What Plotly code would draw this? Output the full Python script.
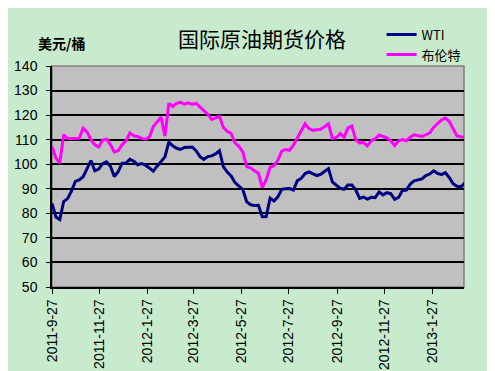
import plotly.graph_objects as go
import pandas as pd

# sampled every 5 days starting 2011-09-27
start_date = "2011-09-27"
wti = [84, 78.5, 77.5, 84.8, 86, 89, 93, 93.6, 94.9, 98,
       101.5, 97.3, 98, 100.2, 101, 99.2, 95, 97, 100.4, 100.5,
       102, 101.2, 99.8, 100.3, 99.6, 98.5, 97.2, 99.2, 100.9, 103,
       109, 107.5, 106.5, 106, 106.8, 106.8, 107, 105.5, 103.1, 102,
       103.1, 103.4, 104.2, 105.5, 99, 96.8, 95.2, 92.5, 91, 89.7,
       84.7, 83.5, 83.2, 83.3, 78.6, 78.7, 86.2, 85, 86.7, 89.8,
       90, 90.1, 89.5, 93.3, 94.2, 96.2, 96.9, 96.1, 95.4, 95.9,
       96.9, 98.2, 92.8, 91.6, 90.2, 89.8, 91.5, 91.5, 89.6, 86.1,
       86.6, 85.8, 86.5, 86.4, 88.7, 87.5, 88.4, 88, 85.7, 86.5,
       89.3, 89.5, 91.9, 93.2, 93.6, 94, 95.4, 96, 97.3, 96.3,
       95.8, 96.6, 94.6, 92.1, 91, 90.8, 92.3]
brent = [107.2, 102.5, 100.5, 112, 110.5, 110.5, 110.3, 110.6, 114.7, 113.2,
         110, 107.9, 107, 109.8, 110.2, 108, 105, 105.5, 107.9, 109.5,
         112.7, 111.6, 111.3, 110.5, 110.2, 111, 115.3, 117.5, 119.2, 111.5,
         124.8, 123.5, 124.8, 125.2, 124.5, 125, 124.4, 124.8, 123.2, 121.8,
         120.4, 118.2, 118.9, 119.5, 115, 113.4, 112.5, 108.7, 107.3, 105,
         99, 98.5, 97.3, 96.3, 90.5, 93.7, 98.7, 99.4, 101.6, 105.3,
         106, 105.7, 107.8, 110.7, 113.3, 116.5, 114.5, 113.8, 114, 114.2,
         115.3, 116.5, 110.5, 110.8, 112.5, 111, 114.8, 115.5, 110, 108.7,
         108.8, 107.5, 109.6, 110.3, 111.9, 111.2, 110.7, 109.5, 107.6, 109.5,
         110, 109.5, 111, 112, 111.6, 111.3, 112, 112.8, 115, 116.5,
         118, 118.8, 117.5, 114.5, 111.5, 111.2, 111]
tick_dates = ["2011-09-27", "2011-11-27", "2012-01-27", "2012-03-27", "2012-05-27",
              "2012-07-27", "2012-09-27", "2012-11-27", "2013-01-27"]
tick_labels = ["2011-9-27", "2011-11-27", "2012-1-27", "2012-3-27", "2012-5-27",
               "2012-7-27", "2012-9-27", "2012-11-27", "2013-1-27"]
series_names = ["WTI", "布伦特"]

dates = pd.date_range(start_date, periods=len(wti), freq="5D")

fig = go.Figure()
fig.add_trace(go.Scatter(x=dates, y=wti, mode="lines", name=series_names[0],
                         line=dict(color="#000080", width=3)))
fig.add_trace(go.Scatter(x=dates, y=brent, mode="lines", name=series_names[1],
                         line=dict(color="#FF00FF", width=3)))

fig.update_layout(
    width=495, height=371,
    margin=dict(l=44, r=39, t=58, b=92, autoexpand=False),
    paper_bgcolor="#C7EBCC",
    plot_bgcolor="#C0C0C0",
    title=dict(text="国际原油期货价格", x=254 / 495, xanchor="center",
               y=1 - 32 / 371, yanchor="middle", yref="container",
               font=dict(family="Noto Sans CJK SC", size=21, color="#000000")),
    legend=dict(x=0.80, y=1.21, xanchor="left", yanchor="top",
                bgcolor="rgba(0,0,0,0)", font=dict(family="Noto Sans CJK SC", size=13, color="#000000"),
                tracegroupgap=0),
    font=dict(family="Liberation Sans", color="#000000"),
    showlegend=True,
)
fig.update_xaxes(
    type="date",
    range=["2011-09-27", "2013-03-09"],
    tickvals=tick_dates, ticktext=tick_labels, tickangle=-90,
    ticks="outside", ticklen=5, tickcolor="#000000",
    showgrid=False, showline=True, linecolor="#000000", linewidth=1.5,
    tickfont=dict(family="Liberation Sans", size=14, color="#000000"),
    zeroline=False, automargin=False,
)
fig.update_yaxes(
    range=[50, 140], dtick=10,
    ticks="outside", ticklen=4, tickcolor="#000000",
    showgrid=True, gridcolor="#000000", gridwidth=1.5,
    showline=True, linecolor="#000000", linewidth=1.5,
    tickfont=dict(family="Liberation Sans Narrow, Liberation Sans", size=14, color="#000000"),
    ticklabelstandoff=6,
    zeroline=False, automargin=False,
)
fig.add_shape(type="rect", xref="paper", yref="paper", x0=0, y0=0, x1=1, y1=1,
              line=dict(color="#808080", width=1.5), layer="below")
fig.add_annotation(text="<b>美元/桶</b>", xref="paper", yref="paper",
                   x=0.024, y=1.104, xanchor="center", yanchor="middle",
                   showarrow=False,
                   font=dict(family="Noto Sans CJK SC", size=14, color="#000000"))

fig.write_html("out.html")
